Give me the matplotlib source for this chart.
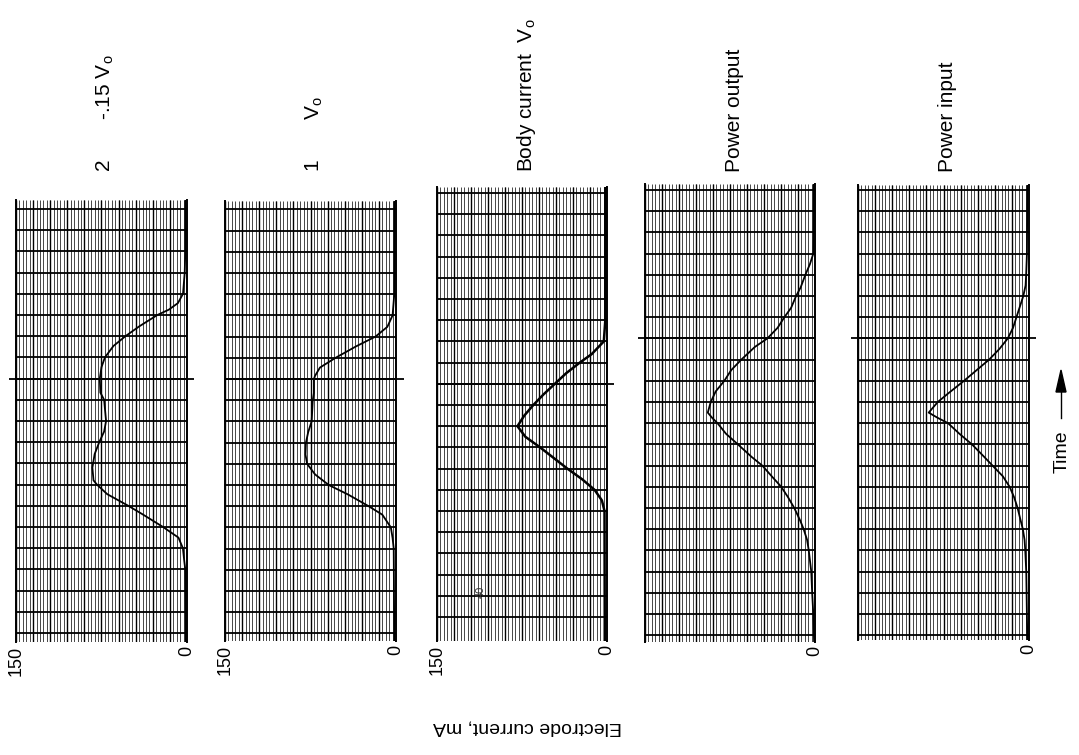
import numpy as np
import matplotlib.pyplot as plt

plt.rcParams['font.family'] = ['Liberation Sans', 'DejaVu Sans']
plt.rcParams['mathtext.fontset'] = 'custom'
plt.rcParams['mathtext.rm'] = 'Liberation Sans'
plt.rcParams['mathtext.it'] = 'Liberation Sans:italic'

W, H = 1079, 755

# time in chart divisions from the event mark (positive = later), current in mA
t_p1 = [8.4, 6, 5, 4, 3.56, 3.25, 3, 2.46, 2, 1.54, 1, 0.54, 0, -0.66, -1, -2, -2.5, -3,
        -3.56, -4.2, -4.8, -5, -5.45, -6, -6.4, -7, -7.5, -8, -8.6, -9, -12, -12.4]
i_p1 = [1.5, 1.5, 2, 3.5, 8, 16, 26, 42, 54, 64.5, 72, 75, 76.5, 76, 72.7, 71, 72.7, 77,
        81, 83, 82, 79, 70, 51.5, 39, 21, 7.5, 3.6, 2.4, 1.5, 1.2, 1.2]

t_p2 = [8.4, 4, 3, 2.46, 2, 1.54, 1, 0.54, 0.15, 0, -0.66, -1, -2, -2.5, -3, -3.56, -4,
        -4.5, -5, -5.45, -6, -6.4, -7, -7.5, -8, -12.4]
i_p2 = [1.5, 1.5, 3, 7.6, 18, 35, 53, 66.7, 71, 72, 72, 73, 74, 77, 79, 79.4, 78,
        71, 59, 42, 24, 12, 4.5, 3, 2, 1.5]

t_p3 = [9.3, 3, 2, 1.4, 1, 0.5, 0, -0.5, -1, -1.5, -2, -2.5, -3, -3.5, -4, -4.5, -5,
        -5.5, -6, -11, -12.1]
i_p3 = [1.5, 1.5, 2.8, 13.5, 24, 36, 46, 56, 65, 73, 79, 72, 59, 47, 35, 22, 11,
        4.5, 2.2, 2, 2]

t_p4 = [7.3, 5, 4, 3.5, 3, 2.4, 2, 1.45, 1, 0.5, 0, -0.4, -1, -1.5, -2, -2.5, -3, -3.5,
        -3.75, -4, -4.5, -5, -5.6, -6, -6.55, -7, -7.5, -8, -8.6, -9, -9.5, -10, -11, -12,
        -13, -14.3]
i_p4 = [1.2, 1.3, 1.5, 4.5, 8.5, 12.7, 16.7, 21, 27, 33, 42, 53, 65, 74, 80, 87.6, 92, 94.6,
        90.7, 86, 78.5, 68, 55.7, 46.5, 37.4, 29.8, 23.7, 18.3, 13, 10, 7, 5.5, 3.3, 2.5,
        1.5, 0.8]

t_p5 = [7.2, 4, 3, 2.5, 2, 1.5, 1, 0.5, 0, -0.5, -1, -1.5, -2, -2.6, -3, -3.5, -3.75, -4,
        -4.5, -5, -5.55, -6, -6.5, -7, -7.5, -8, -8.55, -9, -9.5, -10, -11, -14.2]
i_p5 = [1.5, 1.8, 2.5, 3, 5, 8, 11, 14, 18.6, 26, 35, 46, 57, 71, 80, 88, 80, 71,
        61, 50, 40, 32, 23, 17, 13, 10, 7.5, 5.4, 3.9, 3.3, 2.4, 1.5]

titles = [r'2       -.15 V$_\mathrm{o}$', r'1       V$_\mathrm{o}$',
          r'Body current  V$_\mathrm{o}$', 'Power output', 'Power input']
tick_labels = [['150', '0'], ['150', '0'], ['150', '0'], ['', '0'], ['', '0']]
series = [(t_p1, i_p1), (t_p2, i_p2), (t_p3, i_p3), (t_p4, i_p4), (t_p5, i_p5)]

# strip geometry in pixels: left, right, top, bottom, y of event mark
strips = [(16, 187, 200, 642, 378.6),
          (225, 396, 201, 641, 379.0),
          (437, 607, 187, 641, 383.8),
          (645, 815, 184, 642, 338.4),
          (858, 1029, 185, 640, 338.4)]
mark_ext = [(6, -6), (0, -7), (0, -6), (6, 0), (6, -6)]
div_px = 21.2

fig = plt.figure(figsize=(W / 100, H / 100), dpi=100)

for k, (l, r, top, bot, ym) in enumerate(strips):
    ax = fig.add_axes([l / W, 1 - bot / H, (r - l) / W, (bot - top) / H])
    t_lo = (ym - bot) / div_px
    t_hi = (ym - top) / div_px
    ax.set_xlim(150, 0)
    ax.set_ylim(t_lo, t_hi)
    # chart paper
    ax.vlines(np.arange(0, 151, 3), t_lo, t_hi, color='#3a3a3a', lw=0.65, zorder=1)
    ax.vlines(np.arange(0, 151, 15), t_lo, t_hi, color='black', lw=1.0, zorder=2)
    rows = np.arange(np.ceil(t_lo + 0.2), np.floor(t_hi - 0.2) + 1)
    ax.hlines(rows, 0, 150, color='black', lw=1.3, zorder=2)
    # event mark
    ax.hlines(0, mark_ext[k][1], 150 + mark_ext[k][0], color='black', lw=1.3,
              zorder=2, clip_on=False)
    t, cur = series[k]
    ax.plot(cur, t, color='black', lw=1.8 if k == 2 else 1.3, zorder=3)
    for s in ['top', 'bottom']:
        ax.spines[s].set_visible(False)
    for s in ['left', 'right']:
        ax.spines[s].set_linewidth(1.4)
    ax.set_yticks([])
    ax.set_xticks([150, 0])
    ax.set_xticklabels(tick_labels[k], rotation=90, fontsize=13)
    ax.tick_params(axis='x', length=0, pad=3)
    fig.text((l + r) / 2 / W + 0.004, 1 - 172 / H, titles[k], rotation=90,
             ha='center', va='bottom', fontsize=15)
    if k == 2:
        ax.text(111, -9.8, '40', rotation=90, fontsize=8, color='#333333',
                ha='center', va='center', zorder=4)

fig.text(528 / W, 1 - 727 / H, 'Electrode current, mA', rotation=180,
         ha='center', va='center', fontsize=14)
fig.text(1062 / W, 1 - 452 / H, 'Time', rotation=90, ha='center', va='center',
         fontsize=14)
fig.add_artist(plt.Line2D([1061 / W, 1061 / W], [1 - 418 / H, 1 - 385 / H],
                          color='black', lw=1.0))
fig.patches.append(plt.Polygon([[1061 / W, 1 - 370 / H], [1056 / W, 1 - 392 / H],
                                [1066 / W, 1 - 392 / H]], closed=True,
                               transform=fig.transFigure, facecolor='black',
                               edgecolor='black'))

fig.savefig('out.png', dpi=100)
